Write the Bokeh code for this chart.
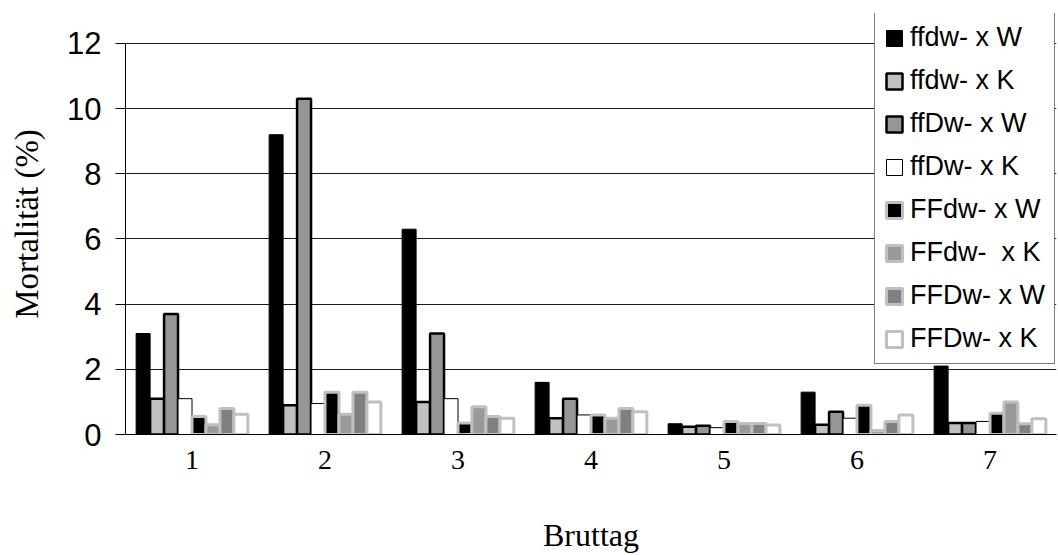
from bokeh.plotting import figure
from bokeh.models import ColumnDataSource, Range1d, FixedTicker, Legend, LegendItem
from bokeh.transform import dodge
from bokeh.embed import file_html
from bokeh.resources import INLINE

# Brood day (category) and mortality per cross, in percent
days = [1, 2, 3, 4, 5, 6, 7]
ffdw_W = [3.1, 9.2, 6.3, 1.6, 0.33, 1.3, 2.1]
ffdw_K = [1.1, 0.9, 1.0, 0.5, 0.24, 0.3, 0.35]
ffDw_W = [3.7, 10.3, 3.1, 1.1, 0.27, 0.7, 0.35]
ffDw_K = [1.1, 0.95, 1.1, 0.6, 0.21, 0.5, 0.4]
FFdw_W = [0.55, 1.3, 0.35, 0.6, 0.4, 0.9, 0.65]
FFdw_K = [0.3, 0.62, 0.85, 0.5, 0.34, 0.12, 1.0]
FFDw_W = [0.8, 1.3, 0.55, 0.8, 0.34, 0.4, 0.33]
FFDw_K = [0.62, 1.0, 0.5, 0.7, 0.29, 0.6, 0.48]

series_names = ["ffdw- x W", "ffdw- x K", "ffDw- x W", "ffDw- x K",
                "FFdw- x W", "FFdw-  x K", "FFDw- x W", "FFDw- x K"]
series_values = [ffdw_W, ffdw_K, ffDw_W, ffDw_K, FFdw_W, FFdw_K, FFDw_W, FFDw_K]
y_ticks = [0, 2, 4, 6, 8, 10, 12]
y_max = 12

# fill colour, outline colour, outline width for each series
styles = [
    ("#000000", "#000000", 1.0),
    ("#c0c0c0", "#000000", 2.5),
    ("#969696", "#000000", 2.5),
    ("#ffffff", "#000000", 1.0),
    ("#000000", "#c0c0c0", 3.0),
    ("#999999", "#c0c0c0", 3.0),
    ("#808080", "#c0c0c0", 3.0),
    ("#ffffff", "#c0c0c0", 3.0),
]

data = {"day": days}
keys = []
for i, vals in enumerate(series_values):
    k = f"s{i}"
    keys.append(k)
    data[k] = vals
source = ColumnDataSource(data)

# the frame reaches a little above the top tick so the legend box fits inside it
p = figure(width=1058, height=555, output_backend="svg", toolbar_location=None,
           x_range=Range1d(0.5, 7.5), y_range=Range1d(0, y_max + 0.92))
p.min_border_left = 125
p.min_border_right = 2
p.min_border_top = 13
p.min_border_bottom = 120
p.outline_line_color = None
p.background_fill_color = "white"
p.border_fill_color = "white"

bar_w = 0.105
items = []
for i, k in enumerate(keys):
    fill, line, lw = styles[i]
    r = p.vbar(x=dodge("day", (i - 3.5) * bar_w, range=p.x_range), top=k, bottom=0,
               width=bar_w, source=source, fill_color=fill, line_color=line,
               line_width=lw)
    items.append(LegendItem(label=series_names[i], renderers=[r]))

# axes
p.xaxis.ticker = FixedTicker(ticks=days)
p.xaxis.major_label_overrides = {d: str(d) for d in days}
p.xaxis.major_tick_out = 0
p.xaxis.major_tick_in = 0
p.xaxis.minor_tick_line_color = None
p.xaxis.axis_line_color = "black"
p.xaxis.major_label_text_font = "Liberation Serif"
p.xaxis.major_label_text_font_size = "28px"
p.xaxis.major_label_text_color = "black"
p.xaxis.major_label_standoff = 16
p.xaxis.axis_label = "Bruttag"
p.xaxis.axis_label_text_font = "Liberation Serif"
p.xaxis.axis_label_text_font_size = "32px"
p.xaxis.axis_label_text_font_style = "normal"
p.xaxis.axis_label_text_color = "black"
p.xaxis.axis_label_standoff = 45

p.yaxis.ticker = FixedTicker(ticks=y_ticks)
p.yaxis.bounds = (0, y_max)
p.yaxis.major_tick_out = 10
p.yaxis.major_tick_in = 0
p.yaxis.minor_tick_line_color = None
p.yaxis.axis_line_color = "black"
p.yaxis.major_tick_line_color = "black"
p.yaxis.major_label_text_font = "Liberation Sans"
p.yaxis.major_label_text_font_size = "31px"
p.yaxis.major_label_text_color = "black"
p.yaxis.major_label_standoff = 14
p.yaxis.axis_label = "Mortalität (%)"
p.yaxis.axis_label_text_font = "Liberation Serif"
p.yaxis.axis_label_text_font_size = "33px"
p.yaxis.axis_label_text_font_style = "normal"
p.yaxis.axis_label_text_color = "black"
p.yaxis.axis_label_standoff = 19

p.xgrid.grid_line_color = None
p.ygrid.ticker = FixedTicker(ticks=y_ticks)
p.ygrid.grid_line_color = "#1a1a1a"
p.ygrid.grid_line_width = 1

legend = Legend(items=items, location=(749, 70), margin=0, padding=9,
                spacing=12, glyph_width=20, glyph_height=20, label_height=30,
                label_standoff=6, label_text_font="Liberation Sans",
                label_text_font_size="27px", label_text_color="black",
                border_line_color="black", border_line_width=1,
                background_fill_color="white", background_fill_alpha=1.0)
p.add_layout(legend)

open("out.html", "w").write(file_html(p, INLINE))
